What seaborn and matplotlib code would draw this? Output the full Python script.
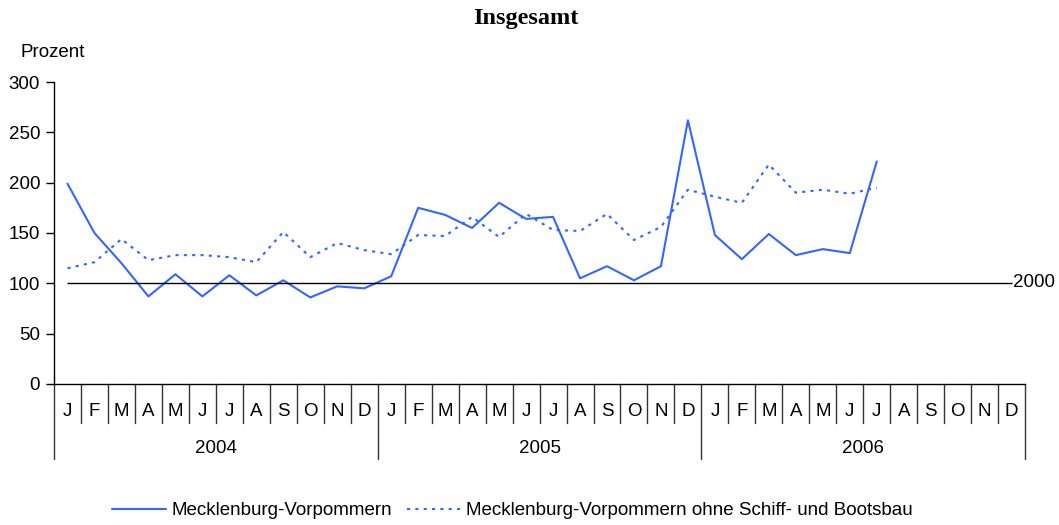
import numpy as np
import pandas as pd
import matplotlib.pyplot as plt
import seaborn as sns

# Data (index, 2000 = 100)
years = ['2004', '2005', '2006']
month_letters = ['J', 'F', 'M', 'A', 'M', 'J', 'J', 'A', 'S', 'O', 'N', 'D']

mv_total = [199, 150, 120, 87, 109, 87, 108, 88, 103, 86, 97, 95,
            107, 175, 168, 155, 180, 164, 166, 105, 117, 103, 117, 262,
            148, 124, 149, 128, 134, 130, 221]
mv_ohne_schiffbau = [115, 121, 144, 123, 128, 128, 126, 121, 151, 126, 140, 133,
                     129, 148, 147, 166, 146, 169, 153, 152, 169, 143, 156, 193,
                     186, 180, 218, 190, 193, 189, 195]
base_value = 100

label_total = 'Mecklenburg-Vorpommern'
label_ohne = 'Mecklenburg-Vorpommern ohne Schiff- und Bootsbau'

n_months = len(years) * 12
df = pd.DataFrame({
    'idx': list(range(len(mv_total))) * 2,
    'wert': mv_total + mv_ohne_schiffbau,
    'reihe': [label_total] * len(mv_total) + [label_ohne] * len(mv_ohne_schiffbau),
})

sns.set_style('white')
plt.rcParams['font.family'] = ['Liberation Sans', 'DejaVu Sans']
plt.rcParams['text.color'] = 'black'
plt.rcParams['ytick.color'] = 'black'
plt.rcParams['ytick.labelcolor'] = 'black'

fs = 13.5
blue = '#3366FF'
fig = plt.figure(figsize=(10.59, 5.25), dpi=100)
ax = fig.add_axes([0.051, 0.2686, 0.917, 0.5752])

sns.lineplot(data=df, x='idx', y='wert', hue='reihe', style='reihe',
             palette=[blue, blue], dashes=['', (1.5, 2.5)], linewidth=1.5,
             legend=False, ax=ax)
ax.lines[1].set_dashes((1.5, 2.5))

# reference line for 2000 = 100
ax.hlines(base_value, 0, n_months - 1, color='black', linewidth=1)
ax.text(n_months - 1 + 0.05, base_value + 1, '2000', fontsize=fs,
        va='center', ha='left', clip_on=False)

ax.set_xlim(-0.5, n_months - 0.5)
ax.set_ylim(0, 300)
ax.set_yticks(range(0, 301, 50))
ax.tick_params(axis='y', length=6, width=1, color='black', direction='out',
               labelsize=fs, labelcolor='black', pad=4, left=True)
ax.set_xticks([])
ax.set_xlabel('')
ax.set_ylabel('')
for side in ['top', 'right']:
    ax.spines[side].set_visible(False)
for side in ['left', 'bottom']:
    ax.spines[side].set_color('black')
    ax.spines[side].set_linewidth(1)

# month / year category axis below the plot
trans = ax.get_xaxis_transform()
for i in range(n_months):
    ax.text(i, -0.09, month_letters[i % 12], transform=trans, ha='center',
            va='center', fontsize=fs)
for b in range(n_months + 1):
    y_end = -0.25 if b % 12 == 0 else -0.129
    ax.plot([b - 0.5, b - 0.5], [0, y_end], transform=trans, color='#333333',
            linewidth=1, clip_on=False)
for k, yr in enumerate(years):
    ax.text(k * 12 + 5.5, -0.212, yr, transform=trans, ha='center',
            va='center', fontsize=fs)

fig.text(0.497, 0.964, 'Insgesamt', ha='center', va='center', fontsize=17.5,
         fontweight='bold', family=['Liberation Serif', 'DejaVu Serif'])
fig.text(0.019, 0.9, 'Prozent', ha='left', va='center', fontsize=fs)

handles = [plt.Line2D([], [], color=blue, linewidth=1.5),
           plt.Line2D([], [], color=blue, linewidth=1.5, linestyle=(0, (1.5, 2.5)))]
fig.legend(handles, [label_total, label_ohne], loc='center',
           bbox_to_anchor=(0.484, 0.027), ncol=2, frameon=False, fontsize=fs,
           handlelength=2.9, handletextpad=0.27, columnspacing=0.8)

fig.savefig('out.png', dpi=100)
